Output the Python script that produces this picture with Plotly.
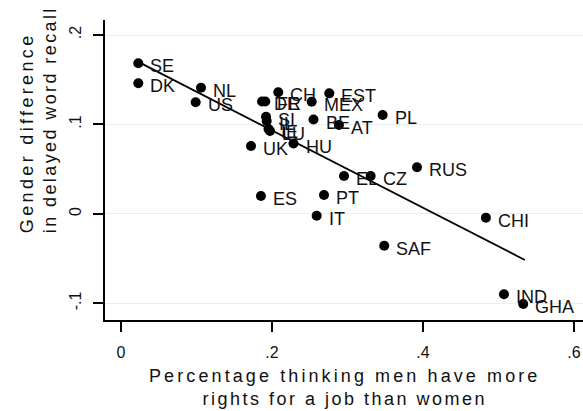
import plotly.graph_objects as go

countries = ["SE", "DK", "NL", "US", "CH", "EST", "DE", "FR", "MEX", "PL",
             "SI", "IL", "IE", "LU", "BE", "AT", "UK", "HU", "EL", "CZ",
             "RUS", "ES", "PT", "IT", "SAF", "CHI", "IND", "GHA"]
share_men_more_rights = [0.0229, 0.0229, 0.106, 0.0989, 0.2083, 0.2759, 0.1868, 0.1911, 0.2526, 0.3466,
                         0.1921, 0.1930, 0.1954, 0.1974, 0.2550, 0.2887, 0.1722, 0.2285, 0.2954, 0.3307,
                         0.3921, 0.1854, 0.2689, 0.2592, 0.3487, 0.4834, 0.5073, 0.5328]
gender_diff_recall = [0.1684, 0.1460, 0.1411, 0.1248, 0.1360, 0.1348, 0.1257, 0.1257, 0.1254, 0.1106,
                      0.1087, 0.1039, 0.0949, 0.0927, 0.1055, 0.0994, 0.0759, 0.0787, 0.0424, 0.0424,
                      0.0521, 0.0200, 0.0211, -0.0020, -0.0356, -0.0042, -0.0899, -0.1007]

fit_x = [0.0229, 0.5350]
fit_y = [0.1700, -0.0515]

x_ticks = [0, 0.2, 0.4, 0.6]
x_ticklabels = ["0", ".2", ".4", ".6"]
y_ticks = [-0.1, 0, 0.1, 0.2]
y_ticklabels = ["-.1", "0", ".1", ".2"]

x_title_lines = ["Percentage thinking men have more", "rights for a job than women"]
y_title_lines = ["Gender difference", "in delayed word recall"]

FONT = "Liberation Sans, Arial, sans-serif"

def spaced(line, px):
    return '<span style="letter-spacing:%spx">%s</span>' % (px, line)

fig = go.Figure()
fig.add_trace(go.Scatter(x=share_men_more_rights, y=gender_diff_recall, mode="markers",
                         marker=dict(color="black", size=10), showlegend=False))
fig.add_trace(go.Scatter(x=fit_x, y=fit_y, mode="lines",
                         line=dict(color="black", width=1.8), showlegend=False))

for c, xv, yv in zip(countries, share_men_more_rights, gender_diff_recall):
    fig.add_annotation(x=xv, y=yv, text=c, showarrow=False, xanchor="left", yanchor="middle",
                       xshift=10, yshift=-3, font=dict(family=FONT, size=18, color="#111"))

# axis titles
fig.add_annotation(xref="paper", yref="paper", x=0.5, y=-0.225, xanchor="center", yanchor="middle",
                   showarrow=False, align="center",
                   text=spaced(x_title_lines[0], 3.1) + "<br>" + spaced(x_title_lines[1], 2.5),
                   font=dict(family=FONT, size=18, color="#111"))
fig.add_annotation(xref="paper", yref="paper", x=-0.139, y=0.283, xanchor="center", yanchor="bottom",
                   showarrow=False, align="left", textangle=-90,
                   text=spaced(y_title_lines[0], 3.35) + "<br>" + spaced(y_title_lines[1], 2.4),
                   font=dict(family=FONT, size=18, color="#111"))

fig.update_layout(
    width=583, height=411,
    margin=dict(l=105, r=0, t=20, b=91),
    paper_bgcolor="white", plot_bgcolor="white",
    font=dict(family=FONT, color="black"),
    xaxis=dict(range=[-0.0212, 0.612], tickvals=x_ticks, ticktext=x_ticklabels,
               showgrid=False, zeroline=False, showline=True, linecolor="black", linewidth=1.5,
               ticks="outside", ticklen=10, tickwidth=1.5, tickcolor="black",
               ticklabelstandoff=7, tickfont=dict(size=16, family=FONT, color="#111")),
    yaxis=dict(range=[-0.1186, 0.2168], tickvals=y_ticks, ticktext=y_ticklabels,
               showgrid=True, gridcolor="#e8eff2", gridwidth=1, zeroline=False,
               showline=True, linecolor="black", linewidth=1.5,
               ticks="outside", ticklen=10, tickwidth=1.5, tickcolor="black",
               ticklabelstandoff=6, tickangle=-90, tickfont=dict(size=16, family=FONT, color="#111")),
)

fig.write_html("out.html")
